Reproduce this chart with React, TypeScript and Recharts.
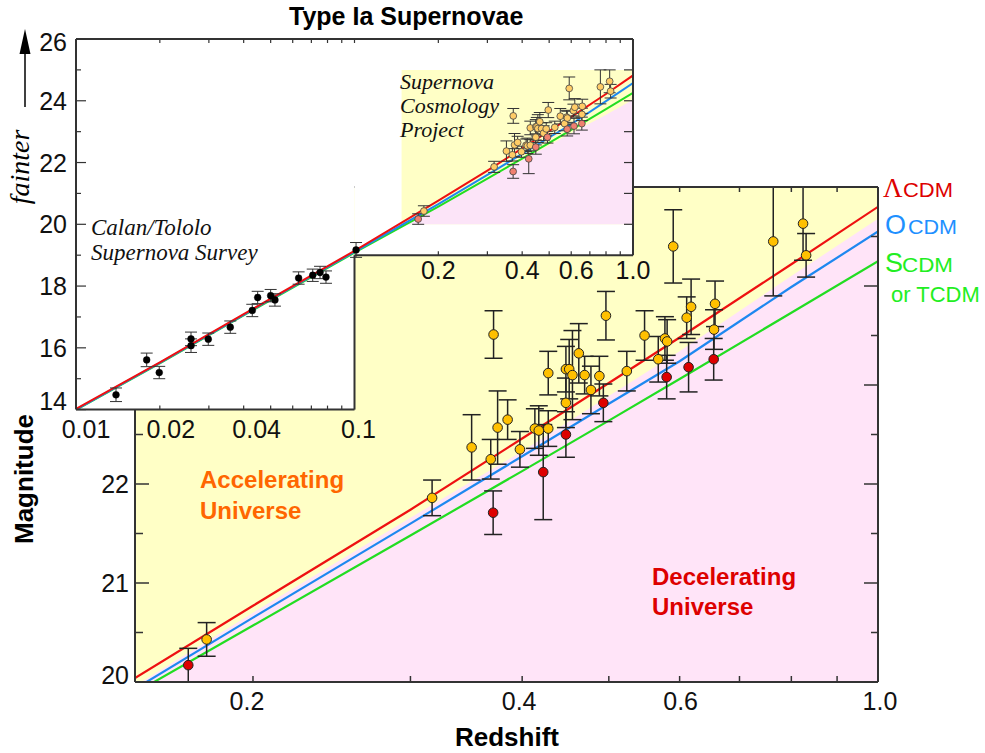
import React from 'react';
import {
  ComposedChart,
  Line,
  Scatter,
  Area,
  XAxis,
  YAxis,
  ErrorBar,
  ReferenceArea,
  ReferenceLine,
  CartesianGrid,
} from 'recharts';

// ---------------- data ----------------
// model curves, main panel
const curveZ = [0.1476, 0.2, 0.3, 0.4, 0.5, 0.6, 0.8, 1.0];
const lambdaCDM = [20.04, 20.77, 21.74, 22.46, 23.02, 23.48, 24.22, 24.8];
const openCDM = [19.93, 20.65, 21.6, 22.28, 22.81, 23.24, 23.99, 24.55];
const standardCDM = [19.89, 20.57, 21.48, 22.13, 22.64, 23.06, 23.73, 24.25];
const accelBoundary = [19.96, 20.7, 21.66, 22.33, 22.89, 23.34, 24.1, 24.68];

// model curves, inset
const insetCurveZ = [0.01, 0.02, 0.04, 0.1, 0.2, 0.3, 0.4, 0.5, 0.6, 0.8, 1.0];
const insetLambda = [14.02, 15.53, 17.09, 19.14, 20.77, 21.74, 22.46, 23.02, 23.48, 24.22, 24.82];
const insetOpen = [14.0, 15.51, 17.07, 19.11, 20.65, 21.6, 22.28, 22.81, 23.24, 23.99, 24.57];
const insetStandard = [13.99, 15.5, 17.05, 19.08, 20.57, 21.48, 22.13, 22.64, 23.06, 23.73, 24.26];
const insetBoundaryZ = [0.155, 0.2, 0.3, 0.4, 0.5, 0.6, 0.8, 1.0];
const insetBoundary = [20.0, 20.55, 21.45, 22.07, 22.55, 22.95, 23.55, 24.03];

// Supernova Cosmology Project (yellow points)
const scpYellowZ = [0.1775, 0.3172, 0.3512, 0.3716, 0.3689, 0.3755, 0.3853, 0.3977, 0.4133, 0.4175, 0.4278, 0.4278, 0.4477, 0.4515, 0.4553, 0.4477, 0.4628, 0.4698, 0.4775, 0.488, 0.4963, 0.5237, 0.5482, 0.5679, 0.5777, 0.581, 0.5902, 0.611, 0.618, 0.6573, 0.6556, 0.7636, 0.8245, 0.831];
const scpYellowM = [20.43, 21.86, 22.37, 23.51, 22.25, 22.57, 22.65, 22.35, 22.56, 22.54, 22.56, 23.12, 23.16, 23.16, 23.1, 22.82, 23.32, 23.1, 22.95, 23.09, 23.7, 23.14, 23.5, 23.26, 23.47, 23.44, 24.4, 23.68, 23.79, 23.82, 23.56, 24.45, 24.63, 24.31];
const scpYellowErr = [0.17, 0.18, 0.33, 0.24, 0.2, 0.37, 0.2, 0.18, 0.2, 0.25, 0.18, 0.22, 0.23, 0.3, 0.45, 0.25, 0.3, 0.19, 0.24, 0.2, 0.245, 0.2, 0.25, 0.23, 0.22, 0.22, 0.37, 0.21, 0.28, 0.23, 0.2, 0.55, 0.37, 0.22];

// Supernova Cosmology Project (red points)
const scpRedZ = [0.1693, 0.3712, 0.4223, 0.4477, 0.493, 0.5803, 0.614, 0.655];
const scpRedM = [20.17, 21.71, 22.12, 22.5, 22.82, 23.08, 23.18, 23.26];
const scpRedErr = [0.17, 0.22, 0.48, 0.23, 0.19, 0.22, 0.25, 0.21];

// Calan/Tololo Supernova Survey
const calanZ = [0.01392, 0.01794, 0.0199, 0.02588, 0.02588, 0.02985, 0.0358, 0.04295, 0.04491, 0.05, 0.0518, 0.063, 0.0708, 0.0752, 0.079, 0.1013];
const calanM = [14.48, 15.61, 15.2, 16.29, 16.07, 16.28, 16.67, 17.21, 17.63, 17.69, 17.55, 18.26, 18.35, 18.44, 18.29, 19.17];
const calanErr = [0.22, 0.22, 0.2, 0.22, 0.22, 0.2, 0.2, 0.2, 0.2, 0.2, 0.2, 0.2, 0.2, 0.2, 0.2, 0.24];

// axes
const mainXDomain = [0.1476, 1.0];
const mainYDomain = [20, 25];
const mainXTicks = [0.2, 0.3, 0.4, 0.5, 0.6, 0.7, 0.8, 0.9, 1.0];
const mainXLabelValues = [0.2, 0.4, 0.6, 1.0];
const mainXLabelText = ['0.2', '0.4', '0.6', '1.0'];
const mainYTicks = [20, 20.5, 21, 21.5, 22, 22.5, 23, 23.5, 24, 24.5, 25];

const insetXDomain = [0.01, 1.0];
const insetYDomain = [14, 26];
const insetXTicks = [0.01, 0.02, 0.03, 0.04, 0.05, 0.06, 0.07, 0.08, 0.09, 0.1, 0.2, 0.3, 0.4, 0.5, 0.6, 0.7, 0.8, 0.9, 1.0];
const insetXLabelValues = [0.01, 0.02, 0.04, 0.1, 0.2, 0.4, 0.6, 1.0];
const insetXLabelText = ['0.01', '0.02', '0.04', '0.1', '0.2', '0.4', '0.6', '1.0'];
const insetYTicks = [14, 15, 16, 17, 18, 19, 20, 21, 22, 23, 24, 25, 26];
const insetRightTicks = [20, 21, 22, 23, 24, 25];
const insetStepMag = 19; // bottom of the upper-right part of the inset
const insetRectZ = [0.1476, 1.0];
const insetRectM = [20, 25];

// ---------------- layout / style ----------------
const W = 985;
const H = 753;
const FONT = "'Liberation Sans', Arial, Helvetica, sans-serif";
const SERIF = "'Liberation Serif', 'Times New Roman', serif";
const FRAME = '#333';
// plot areas: main x 135..878, y 187..682 ; inset x 76..633, y 39..409.6
// (each axis occupies 1px, so margins are 1px smaller)
const mainMargin = { top: 186, right: 106, bottom: 70, left: 134 };
const insetMargin = { top: 38, right: 351, bottom: 342.4, left: 75 };
const insetPlotH = 409.6 - 39;
const insetStepPx = ((insetStepMag - insetYDomain[0]) / (insetYDomain[1] - insetYDomain[0])) * insetPlotH;

const mainXLabelShift: Record<string, number> = { '0.2': -6, '0.4': -3, '0.6': 1, '1': 2 };
const insetXLabelShift: Record<string, number> = { '0.01': 10, '0.02': 11, '0.04': 13, '0.1': 4, '0.6': 5 };

const pts = (zs: number[], ms: number[]) => zs.map((z, i) => ({ z, m: ms[i] }));
const errPts = (zs: number[], ms: number[], es: number[]) => zs.map((z, i) => ({ z, m: ms[i], err: es[i] }));

const lambdaData = pts(curveZ, lambdaCDM);
const openData = pts(curveZ, openCDM);
const standardData = pts(curveZ, standardCDM);
const boundaryData = pts(curveZ, accelBoundary);
const insetLambdaData = pts(insetCurveZ, insetLambda);
const insetOpenData = pts(insetCurveZ, insetOpen);
const insetStandardData = pts(insetCurveZ, insetStandard);
const insetBoundaryData = pts(insetBoundaryZ, insetBoundary);
const yellowData = errPts(scpYellowZ, scpYellowM, scpYellowErr);
const redData = errPts(scpRedZ, scpRedM, scpRedErr);
const calanData = errPts(calanZ, calanM, calanErr);

const dot = (r: number, fill: string, stroke: string, sw: number) => (p: any) => (
  <circle cx={p.cx} cy={p.cy} r={r} fill={fill} stroke={stroke} strokeWidth={sw} />
);

// ---------------- ticks ----------------
const MainBottomTick = (p: any) => {
  const v = p.payload.value;
  const i = mainXLabelValues.indexOf(v);
  return (
    <g>
      <line x1={p.x} x2={p.x} y1={p.y} y2={p.y - 6} stroke={FRAME} strokeWidth={1.5} />
      {i >= 0 && (
        <text x={p.x + (mainXLabelShift[String(v)] || 0)} y={p.y + 28} textAnchor="middle" fontFamily={FONT} fontSize={25} fill="#111">
          {mainXLabelText[i]}
        </text>
      )}
    </g>
  );
};
const MainTopTick = (p: any) => (
  <line x1={p.x} x2={p.x} y1={p.y} y2={p.y + 5} stroke={FRAME} strokeWidth={1.5} />
);
const MainLeftTick = (p: any) => {
  const v = p.payload.value;
  const major = Number.isInteger(v);
  return (
    <g>
      <line x1={p.x} x2={p.x + (major ? 14 : 8)} y1={p.y} y2={p.y} stroke={FRAME} strokeWidth={1.5} />
      {major && (
        <text x={p.x - 6} y={p.y + (v === mainYDomain[0] ? 2 : 9)} textAnchor="end" fontFamily={FONT} fontSize={25} fill="#111">
          {v}
        </text>
      )}
    </g>
  );
};
const MainRightTick = (p: any) => {
  const major = Number.isInteger(p.payload.value);
  return <line x1={p.x} x2={p.x - (major ? 14 : 7)} y1={p.y} y2={p.y} stroke={FRAME} strokeWidth={1.5} />;
};

const InsetBottomTick = (p: any) => {
  const v = p.payload.value;
  const upper = v > 0.1 + 1e-9;
  const y = upper ? p.y - insetStepPx : p.y;
  const i = insetXLabelValues.indexOf(v);
  const corner = v === insetXDomain[0] || v === insetXDomain[1] || Math.abs(v - 0.1) < 1e-9;
  return (
    <g>
      {!corner && <line x1={p.x} x2={p.x} y1={y} y2={y - 4} stroke={FRAME} strokeWidth={1.2} />}
      {i >= 0 && (
        <text x={p.x + (insetXLabelShift[String(v)] || 0)} y={y + (upper ? 24 : 28.5)} textAnchor="middle" fontFamily={FONT} fontSize={25} fill="#111">
          {insetXLabelText[i]}
        </text>
      )}
    </g>
  );
};
const InsetTopTick = (p: any) => {
  const v = p.payload.value;
  if (v === insetXDomain[0] || v === insetXDomain[1]) return <g />;
  return <line x1={p.x} x2={p.x} y1={p.y} y2={p.y + 4} stroke={FRAME} strokeWidth={1.2} />;
};
const InsetLeftTick = (p: any) => {
  const v = p.payload.value;
  const major = v % 2 === 0;
  const dy = v === insetYDomain[1] ? 12 : v === insetYDomain[0] ? 0 : 9;
  return (
    <g>
      <line x1={p.x} x2={p.x + (major ? 10 : 5)} y1={p.y} y2={p.y} stroke={FRAME} strokeWidth={1.2} />
      {major && (
        <text x={p.x - 9} y={p.y + dy} textAnchor="end" fontFamily={FONT} fontSize={25} fill="#111">
          {v}
        </text>
      )}
    </g>
  );
};
const InsetRightTick = (p: any) => (
  <line x1={p.x} x2={p.x - 9} y1={p.y} y2={p.y} stroke={FRAME} strokeWidth={1.2} />
);

const abs: React.CSSProperties = { position: 'absolute', left: 0, top: 0 };

export default function App() {
  return (
    <div style={{ position: 'absolute', left: 0, top: 0, width: W, height: H, background: '#fff', overflow: 'hidden' }}>
      {/* main chart */}
      <div style={abs}>
        <ComposedChart width={W} height={H} margin={mainMargin}>
          <CartesianGrid horizontal={false} vertical={false} fill="#FFFFC6" stroke="none" />
          <XAxis xAxisId={0} dataKey="z" type="number" scale="log" domain={mainXDomain} allowDataOverflow ticks={mainXTicks} interval={0} height={1} tickSize={0} tickMargin={0} tick={<MainBottomTick />} axisLine={{ stroke: FRAME, strokeWidth: 2 }} />
          <XAxis xAxisId="top" orientation="top" dataKey="z" type="number" scale="log" domain={mainXDomain} allowDataOverflow ticks={mainXTicks} interval={0} height={1} tickSize={0} tickMargin={0} tick={<MainTopTick />} axisLine={{ stroke: FRAME, strokeWidth: 2 }} />
          <YAxis yAxisId={0} dataKey="m" type="number" domain={mainYDomain} allowDataOverflow ticks={mainYTicks} interval={0} width={1} tickSize={0} tickMargin={0} tick={<MainLeftTick />} axisLine={{ stroke: FRAME, strokeWidth: 2 }} />
          <YAxis yAxisId="right" orientation="right" dataKey="m" type="number" domain={mainYDomain} allowDataOverflow ticks={mainYTicks} interval={0} width={1} tickSize={0} tickMargin={0} tick={<MainRightTick />} axisLine={{ stroke: FRAME, strokeWidth: 2 }} />
          <Area data={boundaryData} dataKey="m" type="linear" baseValue={mainYDomain[0]} fill="#FFE4F8" fillOpacity={1} stroke="none" isAnimationActive={false} />
          <Line data={standardData} dataKey="m" type="linear" stroke="#22DD22" strokeWidth={2.2} dot={false} isAnimationActive={false} />
          <Line data={openData} dataKey="m" type="linear" stroke="#1E88F0" strokeWidth={2.2} dot={false} isAnimationActive={false} />
          <Line data={lambdaData} dataKey="m" type="linear" stroke="#EE1111" strokeWidth={2.2} dot={false} isAnimationActive={false} />
          <Scatter data={yellowData} dataKey="m" shape={dot(4.8, '#FFC000', '#222', 1)} isAnimationActive={false}>
            <ErrorBar dataKey="err" direction="y" width={9} stroke="#222" strokeWidth={1.5} />
          </Scatter>
          <Scatter data={redData} dataKey="m" shape={dot(4.8, '#DD0000', '#222', 1)} isAnimationActive={false}>
            <ErrorBar dataKey="err" direction="y" width={9} stroke="#222" strokeWidth={1.5} />
          </Scatter>
        </ComposedChart>
      </div>

      {/* inset */}
      <div style={abs}>
        <ComposedChart width={W} height={H} margin={insetMargin}>
          <XAxis xAxisId={0} dataKey="z" type="number" scale="log" domain={insetXDomain} allowDataOverflow ticks={insetXTicks} interval={0} height={1} tickSize={0} tickMargin={0} tick={<InsetBottomTick />} axisLine={false} />
          <XAxis xAxisId="top" orientation="top" dataKey="z" type="number" scale="log" domain={insetXDomain} allowDataOverflow ticks={insetXTicks} interval={0} height={1} tickSize={0} tickMargin={0} tick={<InsetTopTick />} axisLine={false} />
          <YAxis yAxisId={0} dataKey="m" type="number" domain={insetYDomain} allowDataOverflow ticks={insetYTicks} interval={0} width={1} tickSize={0} tickMargin={0} tick={<InsetLeftTick />} axisLine={false} />
          <YAxis yAxisId="right" orientation="right" dataKey="m" type="number" domain={insetYDomain} allowDataOverflow ticks={insetRightTicks} interval={0} width={1} tickSize={0} tickMargin={0} tick={<InsetRightTick />} axisLine={false} />
          <ReferenceArea x1={insetXDomain[0]} x2={0.1} y1={insetYDomain[0]} y2={insetYDomain[1]} fill="#fff" fillOpacity={1} stroke="none" ifOverflow="visible" />
          <ReferenceArea x1={0.1} x2={insetXDomain[1]} y1={insetStepMag} y2={insetYDomain[1]} fill="#fff" fillOpacity={1} stroke="none" ifOverflow="visible" />
          <ReferenceArea x1={insetRectZ[0]} x2={insetRectZ[1]} y1={insetRectM[0]} y2={insetRectM[1]} fill="#FFFFC6" fillOpacity={1} stroke="none" ifOverflow="visible" />
          <Area data={insetBoundaryData} dataKey="m" type="linear" baseValue={insetRectM[0]} fill="#FCE4F8" fillOpacity={1} stroke="none" isAnimationActive={false} />
          <Line data={insetStandardData} dataKey="m" type="linear" stroke="#22DD22" strokeWidth={2} dot={false} isAnimationActive={false} />
          <Line data={insetOpenData} dataKey="m" type="linear" stroke="#1E88F0" strokeWidth={2} dot={false} isAnimationActive={false} />
          <Line data={insetLambdaData} dataKey="m" type="linear" stroke="#EE1111" strokeWidth={2} dot={false} isAnimationActive={false} />
          <ReferenceLine segment={[{ x: insetXDomain[0], y: insetYDomain[1] }, { x: insetXDomain[1], y: insetYDomain[1] }]} stroke={FRAME} strokeWidth={2} ifOverflow="visible" />
          <ReferenceLine segment={[{ x: insetXDomain[0], y: insetYDomain[0] }, { x: insetXDomain[0], y: insetYDomain[1] }]} stroke={FRAME} strokeWidth={2} ifOverflow="visible" />
          <ReferenceLine segment={[{ x: insetXDomain[0], y: insetYDomain[0] }, { x: 0.1, y: insetYDomain[0] }]} stroke={FRAME} strokeWidth={2} ifOverflow="visible" />
          <ReferenceLine segment={[{ x: 0.1, y: insetYDomain[0] }, { x: 0.1, y: insetStepMag }]} stroke={FRAME} strokeWidth={2} ifOverflow="visible" />
          <ReferenceLine segment={[{ x: 0.1, y: insetStepMag }, { x: insetXDomain[1], y: insetStepMag }]} stroke={FRAME} strokeWidth={2} ifOverflow="visible" />
          <ReferenceLine segment={[{ x: insetXDomain[1], y: insetStepMag }, { x: insetXDomain[1], y: insetYDomain[1] }]} stroke={FRAME} strokeWidth={2} ifOverflow="visible" />
          <Scatter data={calanData} dataKey="m" shape={dot(3.4, '#000', '#000', 0.5)} isAnimationActive={false}>
            <ErrorBar dataKey="err" direction="y" width={6} stroke="#333" strokeWidth={1} />
          </Scatter>
          <Scatter data={yellowData} dataKey="m" shape={dot(3.4, '#FFCC66', '#444', 0.8)} isAnimationActive={false}>
            <ErrorBar dataKey="err" direction="y" width={6} stroke="#333" strokeWidth={1} />
          </Scatter>
          <Scatter data={redData} dataKey="m" shape={dot(3.4, '#F08070', '#444', 0.8)} isAnimationActive={false}>
            <ErrorBar dataKey="err" direction="y" width={6} stroke="#333" strokeWidth={1} />
          </Scatter>
        </ComposedChart>
      </div>

      {/* annotations */}
      <svg width={W} height={H} style={abs}>
        <text x={289} y={25} fontFamily={FONT} fontWeight="bold" fontSize={25} fill="#000">Type Ia Supernovae</text>
        <line x1={25} x2={25} y1={107} y2={50} stroke="#000" strokeWidth={1.5} />
        <polygon points="19.5,54 30.5,54 25,29" fill="#000" />
        <text transform="translate(29,167) rotate(-90)" textAnchor="middle" fontFamily={SERIF} fontStyle="italic" fontSize={28} fill="#000">fainter</text>
        <text transform="translate(33,479) rotate(-90)" textAnchor="middle" fontFamily={FONT} fontWeight="bold" fontSize={26} fill="#000">Magnitude</text>
        <text x={507} y={746} textAnchor="middle" fontFamily={FONT} fontWeight="bold" fontSize={26} fill="#000">Redshift</text>

        <text x={91} y={235} fontFamily={SERIF} fontStyle="italic" fontSize={23} fill="#111">Calan/Tololo</text>
        <text x={91} y={260} fontFamily={SERIF} fontStyle="italic" fontSize={23} fill="#111">Supernova Survey</text>
        <text x={400} y={89} fontFamily={SERIF} fontStyle="italic" fontSize={22} fill="#111">Supernova</text>
        <text x={400} y={113} fontFamily={SERIF} fontStyle="italic" fontSize={22} fill="#111">Cosmology</text>
        <text x={400} y={137} fontFamily={SERIF} fontStyle="italic" fontSize={22} fill="#111">Project</text>

        <text x={200} y={488} fontFamily={FONT} fontWeight="bold" fontSize={24} fill="#FF6600">Accelerating</text>
        <text x={200} y={519} fontFamily={FONT} fontWeight="bold" fontSize={24} fill="#FF6600">Universe</text>
        <text x={652} y={585} fontFamily={FONT} fontWeight="bold" fontSize={24} fill="#DD0000">Decelerating</text>
        <text x={652} y={615} fontFamily={FONT} fontWeight="bold" fontSize={24} fill="#DD0000">Universe</text>

        <text x={883} y={197} fontFamily={SERIF} fontSize={27} fill="#DD0000">Λ</text>
        <text x={903} y={197} fontFamily={FONT} fontSize={20} fill="#DD0000" textLength={50} lengthAdjust="spacingAndGlyphs">CDM</text>
        <text x={885} y={234} fontFamily={FONT} fontSize={27} fill="#1E90FF">O</text>
        <text x={908} y={234} fontFamily={FONT} fontSize={20} fill="#1E90FF" textLength={49} lengthAdjust="spacingAndGlyphs">CDM</text>
        <text x={885} y={272} fontFamily={FONT} fontSize={27} fill="#22EE22">S</text>
        <text x={902} y={272} fontFamily={FONT} fontSize={20} fill="#22EE22" textLength={51} lengthAdjust="spacingAndGlyphs">CDM</text>
        <text x={891} y={302} fontFamily={FONT} fontSize={22} fill="#22EE22">or TCDM</text>
      </svg>
    </div>
  );
}
